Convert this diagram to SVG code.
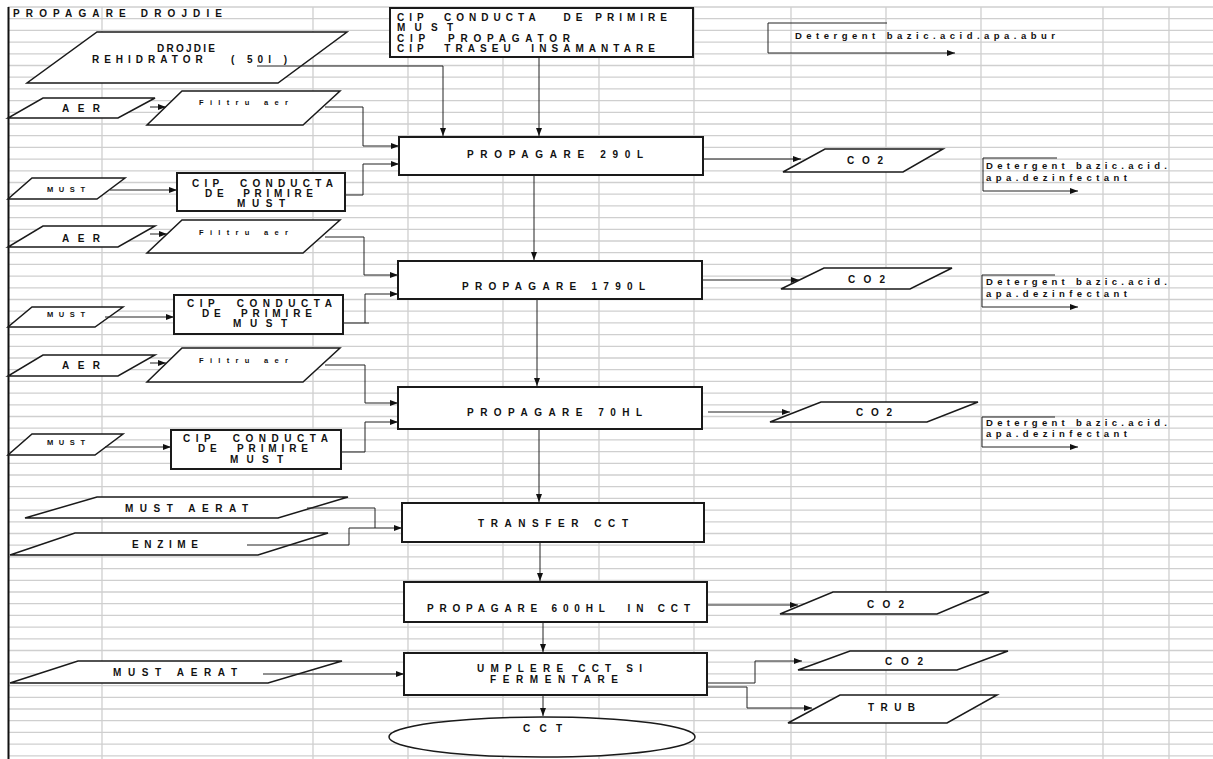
<svg xmlns="http://www.w3.org/2000/svg" width="1213" height="759" viewBox="0 0 1213 759">
<style>
.grid{stroke:#cfcfcf;stroke-width:1.3;fill:none}
.pg{fill:#fff;stroke:#1a1a1a;stroke-width:1.5}
.bx{fill:#fff;stroke:#1a1a1a;stroke-width:2}
.ov{fill:#fff;stroke:#1a1a1a;stroke-width:1.5}
.c{fill:none;stroke:#222;stroke-width:1}
.ca{fill:none;stroke:#222;stroke-width:1;marker-end:url(#ah)}
text{font-family:"Liberation Sans",Arial,sans-serif;font-weight:bold;fill:#111;font-size:10px}
.sm{font-size:7.5px}
.lc{font-weight:bold;font-size:9.5px}
</style>
<defs>
<marker id="ah" viewBox="0 0 8 6" refX="8" refY="3" markerWidth="8" markerHeight="6" markerUnits="userSpaceOnUse" orient="auto"><path d="M0,0 L8,3 L0,6 z" fill="#111"/></marker>
</defs>
<rect width="1213" height="759" fill="#fff"/>
<g id="grid">
<path class="grid" d="M8,7H1213M8,18.7H1213M8,30.4H1213M8,42.1H1213M8,53.8H1213M8,65.5H1213M8,77.2H1213M8,88.9H1213M8,100.6H1213M8,112.3H1213M8,124H1213M8,135.7H1213M8,147.4H1213M8,159.1H1213M8,170.8H1213M8,182.5H1213M8,194.2H1213M8,205.9H1213M8,217.6H1213M8,229.3H1213M8,241H1213M8,252.7H1213M8,264.4H1213M8,276.1H1213M8,287.8H1213M8,299.5H1213M8,311.2H1213M8,322.9H1213M8,334.6H1213M8,346.3H1213M8,358H1213M8,369.7H1213M8,381.4H1213M8,393.1H1213M8,404.8H1213M8,416.5H1213M8,428.2H1213M8,439.9H1213M8,451.6H1213M8,463.3H1213M8,475H1213M8,486.7H1213M8,498.4H1213M8,510.1H1213M8,521.8H1213M8,533.5H1213M8,545.2H1213M8,556.9H1213M8,568.6H1213M8,580.3H1213M8,592H1213M8,603.7H1213M8,615.4H1213M8,627.1H1213M8,638.8H1213M8,650.5H1213M8,662.2H1213M8,673.9H1213M8,685.6H1213M8,697.3H1213M8,709H1213M8,720.7H1213M8,732.4H1213M8,744.1H1213M8,755.8H1213"/>
<path class="grid" d="M102,7V759M313,7V759M408,7V759M503,7V759M599,7V759M694,7V759M791,7V759M886,7V759M981,7V759M1103,7V759M1169,7V759"/>
<path d="M8.5,7V759" stroke="#111" stroke-width="2" fill="none"/>
</g>
<text x="13" y="17" textLength="209" lengthAdjust="spacing">PROPAGARE DROJDIE</text>

<g id="drojdie"><polygon class="pg" points="97,32 347,32 278,83 27,83"/>
<text x="157" y="52" textLength="58" lengthAdjust="spacing">DROJDIE</text>
<text x="92" y="63" textLength="195" lengthAdjust="spacing" xml:space="preserve">REHIDRATOR   ( 50l )</text></g>

<g id="cip-top"><rect class="bx" x="390" y="8" width="303" height="49"/>
<text x="397" y="21" textLength="270" lengthAdjust="spacing" xml:space="preserve">CIP  CONDUCTA   DE PRIMIRE</text>
<text x="397" y="30.5" textLength="56" lengthAdjust="spacing">MUST</text>
<text x="397" y="41.5" textLength="173" lengthAdjust="spacing" xml:space="preserve">CIP  PROPAGATOR</text>
<text x="397" y="52" textLength="258" lengthAdjust="spacing" xml:space="preserve">CIP  TRASEU  INSAMANTARE</text></g>

<g id="det-top"><text class="lc" x="795" y="39" textLength="260" lengthAdjust="spacing">Detergent bazic.acid.apa.abur</text></g>

<g id="aer1"><polygon class="pg" points="43,98 155,98 118,118 8,118"/><text x="62" y="112" textLength="38" lengthAdjust="spacing">AER</text></g>
<g id="filtru1"><polygon class="pg" points="182,91 340,91 303,125 147,125"/><text class="sm" x="199" y="105" textLength="89" lengthAdjust="spacing">Filtru aer</text></g>
<g id="must1"><polygon class="pg" points="32,178 125,178 97,199 8,199"/><text class="sm" x="47" y="192" textLength="38" lengthAdjust="spacing">MUST</text></g>
<g id="cip1"><rect class="bx" x="177" y="173" width="168" height="38"/>
<text x="192" y="187" textLength="141" lengthAdjust="spacing" xml:space="preserve">CIP  CONDUCTA</text>
<text x="205" y="197" textLength="108" lengthAdjust="spacing" xml:space="preserve">DE  PRIMIRE</text>
<text x="237" y="207" textLength="48" lengthAdjust="spacing">MUST</text></g>

<g id="prop290"><rect class="bx" x="399" y="137" width="304" height="38"/><text x="467" y="158" textLength="176" lengthAdjust="spacing">PROPAGARE 290L</text></g>
<g id="co2-1"><polygon class="pg" points="825,149 943,149 903,172 783,172"/><text x="847" y="164" textLength="36" lengthAdjust="spacing">CO2</text></g>
<g id="det1"><text class="lc" x="986" y="169" textLength="181" lengthAdjust="spacing">Detergent bazic.acid.</text><text class="lc" x="986" y="181" textLength="141" lengthAdjust="spacing">apa.dezinfectant</text></g>

<g id="aer2"><polygon class="pg" points="43,226 155,226 118,247 8,247"/><text x="62" y="242" textLength="38" lengthAdjust="spacing">AER</text></g>
<g id="filtru2"><polygon class="pg" points="182,220 340,220 303,253 147,253"/><text class="sm" x="199" y="235" textLength="89" lengthAdjust="spacing">Filtru aer</text></g>
<g id="must2"><polygon class="pg" points="32,307 123,307 95,327 8,327"/><text class="sm" x="47" y="317" textLength="38" lengthAdjust="spacing">MUST</text></g>
<g id="cip2"><rect class="bx" x="174" y="295" width="169" height="39"/>
<text x="187" y="307" textLength="145" lengthAdjust="spacing" xml:space="preserve">CIP  CONDUCTA</text>
<text x="202" y="317" textLength="110" lengthAdjust="spacing" xml:space="preserve">DE  PRIMIRE</text>
<text x="233" y="327" textLength="54" lengthAdjust="spacing">MUST</text></g>

<g id="prop1790"><rect class="bx" x="398" y="261" width="304" height="38"/><text x="462" y="290" textLength="183" lengthAdjust="spacing">PROPAGARE 1790L</text></g>
<g id="co2-2"><polygon class="pg" points="824,268 952,268 910,289 781,289"/><text x="848" y="283" textLength="37" lengthAdjust="spacing">CO2</text></g>
<g id="det2"><text class="lc" x="986" y="285" textLength="181" lengthAdjust="spacing">Detergent bazic.acid.</text><text class="lc" x="986" y="297" textLength="141" lengthAdjust="spacing">apa.dezinfectant</text></g>

<g id="aer3"><polygon class="pg" points="43,355 155,355 118,376 8,376"/><text x="62" y="369" textLength="38" lengthAdjust="spacing">AER</text></g>
<g id="filtru3"><polygon class="pg" points="182,348 340,348 303,382 147,382"/><text class="sm" x="199" y="363" textLength="89" lengthAdjust="spacing">Filtru aer</text></g>
<g id="must3"><polygon class="pg" points="32,434 123,434 95,455 8,455"/><text class="sm" x="47" y="445" textLength="38" lengthAdjust="spacing">MUST</text></g>
<g id="cip3"><rect class="bx" x="171" y="430" width="170" height="39"/>
<text x="183" y="442" textLength="145" lengthAdjust="spacing" xml:space="preserve">CIP  CONDUCTA</text>
<text x="198" y="452" textLength="110" lengthAdjust="spacing" xml:space="preserve">DE  PRIMIRE</text>
<text x="230" y="463" textLength="53" lengthAdjust="spacing">MUST</text></g>

<g id="prop70"><rect class="bx" x="398" y="387" width="304" height="42"/><text x="467" y="416" textLength="175" lengthAdjust="spacing">PROPAGARE 70HL</text></g>
<g id="co2-3"><polygon class="pg" points="821,402 978,402 927,422 770,422"/><text x="856" y="416" textLength="36" lengthAdjust="spacing">CO2</text></g>
<g id="det3"><text class="lc" x="986" y="426" textLength="181" lengthAdjust="spacing">Detergent bazic.acid.</text><text class="lc" x="986" y="437" textLength="141" lengthAdjust="spacing">apa.dezinfectant</text></g>

<g id="mustaerat1"><polygon class="pg" points="97,497 348,497 278,518 25,518"/><text x="125" y="512" textLength="123" lengthAdjust="spacing">MUST AERAT</text></g>
<g id="enzime"><polygon class="pg" points="75,533 328,533 258,555 10,555"/><text x="132" y="548" textLength="66" lengthAdjust="spacing">ENZIME</text></g>
<g id="transfer"><rect class="bx" x="402" y="503" width="302" height="39"/><text x="478" y="527" textLength="150" lengthAdjust="spacing">TRANSFER CCT</text></g>

<g id="prop600"><rect class="bx" x="404" y="582" width="303" height="40"/><text x="427" y="612" textLength="263" lengthAdjust="spacing" xml:space="preserve">PROPAGARE 600HL  IN CCT</text></g>
<g id="co2-4"><polygon class="pg" points="833,592 989,592 937,614 780,614"/><text x="867" y="608" textLength="37" lengthAdjust="spacing">CO2</text></g>

<g id="mustaerat2"><polygon class="pg" points="78,661 342,661 268,683 10,683"/><text x="113" y="676" textLength="124" lengthAdjust="spacing">MUST AERAT</text></g>
<g id="umplere"><rect class="bx" x="404" y="653" width="303" height="42"/><text x="477" y="672" textLength="165" lengthAdjust="spacing">UMPLERE CCT SI</text><text x="490" y="683" textLength="128" lengthAdjust="spacing">FERMENTARE</text></g>
<g id="co2-5"><polygon class="pg" points="850,651 1008,651 957,670 798,670"/><text x="885" y="665" textLength="38" lengthAdjust="spacing">CO2</text></g>
<g id="trub"><polygon class="pg" points="840,695 997,695 947,723 788,723"/><text x="868" y="711" textLength="47" lengthAdjust="spacing">TRUB</text></g>
<g id="cct"><ellipse class="ov" cx="542" cy="737" rx="153" ry="20"/><text x="523" y="732" textLength="39" lengthAdjust="spacing">CCT</text></g>

<g id="connectors">
<path class="ca" d="M257,66H443V136"/>
<path class="ca" d="M539,58V136"/>
<path class="ca" d="M887,23H768V53H955"/>
<path class="ca" d="M150,107H166"/>
<path class="ca" d="M325,107H363V146H399"/>
<path class="ca" d="M110,190H177"/>
<path class="ca" d="M345,195H363V164H399"/>
<path class="ca" d="M703,159H801"/>
<path class="ca" d="M1057,158H983V191H1078"/>
<path class="ca" d="M534,175V260"/>
<path class="ca" d="M150,234H167"/>
<path class="ca" d="M325,237H364V275H398"/>
<path class="ca" d="M105,317H174"/>
<path class="ca" d="M343,323H369M365,323V294H398"/>
<path class="ca" d="M702,280H799"/>
<path class="ca" d="M1055,275H982V307H1078"/>
<path class="ca" d="M537,299V386"/>
<path class="ca" d="M150,363H166"/>
<path class="ca" d="M325,365H365V403H398"/>
<path class="ca" d="M105,447H171"/>
<path class="ca" d="M341,452H365V422H398"/>
<path class="ca" d="M708,412H790"/>
<path class="ca" d="M1055,417H982V447H1078"/>
<path class="ca" d="M539,429V502"/>
<path class="c" d="M307,508H375V528"/>
<path class="ca" d="M247,545H349V528H402"/>
<path class="ca" d="M540,542V581"/>
<path class="ca" d="M707,605H798"/>
<path class="ca" d="M543,622V652"/>
<path class="ca" d="M263,674H404"/>
<path class="ca" d="M707,683H755V661H802"/>
<path class="ca" d="M707,687H747V708H812"/>
<path class="ca" d="M543,695V716"/>
</g>
</svg>
